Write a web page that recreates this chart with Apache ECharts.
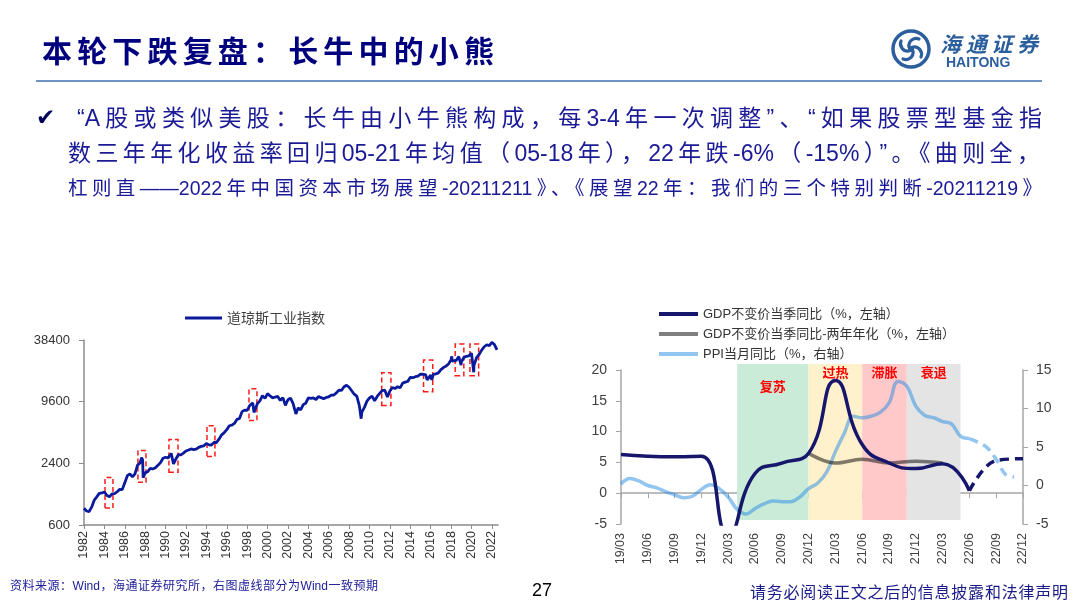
<!DOCTYPE html>
<html><head><meta charset="utf-8">
<script src="https://cdn.jsdelivr.net/npm/echarts@6/dist/echarts.min.js"></script>
<style>
html,body{margin:0;padding:0;background:#fff;}
#page{position:relative;width:1080px;height:607px;overflow:hidden;background:#fff;font-family:"Liberation Sans","Noto Sans CJK SC",sans-serif;}
#chart{position:absolute;left:0;top:0;width:1080px;height:607px;}
.t{position:absolute;text-align:justify;text-align-last:justify;white-space:normal;}
</style></head>
<body>
<div id="page">
  <div id="chart"></div>
  <div class="t" style="left:42px;top:30px;width:452px;font-size:30px;line-height:38px;color:#00007f;font-family:'Noto Sans CJK SC';font-weight:bold;">本轮下跌复盘：长牛中的小熊</div>
  <div style="position:absolute;left:36px;top:80px;width:1006px;height:2px;background:#6f93c3;"></div>
  <svg style="position:absolute;left:889px;top:27px" width="44" height="44" viewBox="-22 -22 44 44">
    <circle r="18" fill="none" stroke="#2b5e9d" stroke-width="3.5"/>
    <g fill="none" stroke="#2b5e9d" stroke-width="3.2" stroke-linecap="round">
      <path d="M-2,-2 C-3,-8 3,-12 8,-10"/>
      <path d="M-2,-2 C-3,-8 3,-12 8,-10" transform="rotate(90)"/>
      <path d="M-2,-2 C-3,-8 3,-12 8,-10" transform="rotate(180)"/>
      <path d="M-2,-2 C-3,-8 3,-12 8,-10" transform="rotate(270)"/>
    </g>
    <rect x="-3" y="-3" width="6" height="6" fill="#2b5e9d"/>
  </svg>
  <div class="t" style="left:940px;top:30px;width:98px;font-size:21px;line-height:26px;color:#2b5e9d;font-family:'Noto Sans CJK SC';font-style:italic;font-weight:bold;">海通证券</div>
  <div class="t" style="left:946px;top:54px;width:76px;font-size:14px;line-height:16px;color:#2b5e9d;font-weight:bold;">HAITONG</div>

  <div style="position:absolute;left:36px;top:102px;font-size:23px;line-height:30px;color:#00005a;font-family:'DejaVu Sans';">✔</div>
  <div class="t" style="left:77px;top:103px;width:965px;font-size:23px;line-height:30px;color:#1a1a96;">“A股或类似美股：长牛由小牛熊构成，每3-4年一次调整”、“如果股票型基金指</div>
  <div class="t" style="left:68px;top:138px;width:972px;font-size:23px;line-height:30px;color:#1a1a96;">数三年年化收益率回归05-21年均值（05-18年），22年跌-6%（-15%）”。《曲则全，</div>
  <div class="t" style="left:68px;top:175px;width:974px;font-size:19.5px;line-height:26px;color:#1a1a96;">杠则直——2022年中国资本市场展望-20211211》、《展望22年：我们的三个特别判断-20211219》</div>

  <div class="t" style="left:10px;top:578px;width:368px;font-size:12px;line-height:16px;color:#20209a;">资料来源：Wind，海通证券研究所，右图虚线部分为Wind一致预期</div>
  <div style="position:absolute;left:532px;top:579px;font-size:18px;line-height:22px;color:#000;">27</div>
  <div class="t" style="left:750px;top:580px;width:318px;font-size:16px;line-height:22px;color:#1a1a8a;font-family:'Noto Sans CJK SC';">请务必阅读正文之后的信息披露和法律声明</div>
</div>
<script>
// ---- Left chart: Dow Jones Industrial Average ----
const dowYears = [
  1982.00,1982.25,1982.50,1982.62,1982.75,
  1983.00,1983.25,1983.50,1983.75,
  1984.00,1984.25,1984.50,1984.75,
  1985.00,1985.25,1985.50,1985.75,
  1986.00,1986.25,1986.50,1986.75,
  1987.00,1987.25,1987.50,1987.65,1987.75,1987.80,
  1988.00,1988.25,1988.50,1988.75,
  1989.00,1989.25,1989.50,1989.75,
  1990.00,1990.25,1990.55,1990.78,
  1991.00,1991.25,1991.50,1991.75,
  1992.00,1992.25,1992.50,1992.75,
  1993.00,1993.25,1993.50,1993.75,
  1994.00,1994.25,1994.50,1994.75,
  1995.00,1995.25,1995.50,1995.75,
  1996.00,1996.25,1996.50,1996.75,
  1997.00,1997.25,1997.50,1997.75,
  1998.00,1998.25,1998.55,1998.67,1998.75,
  1999.00,1999.25,1999.50,1999.75,
  2000.00,2000.25,2000.50,2000.75,
  2001.00,2001.25,2001.50,2001.75,
  2002.00,2002.25,2002.50,2002.78,
  2003.00,2003.25,2003.50,2003.75,
  2004.00,2004.25,2004.50,2004.75,
  2005.00,2005.25,2005.50,2005.75,
  2006.00,2006.25,2006.50,2006.75,
  2007.00,2007.25,2007.50,2007.75,
  2008.00,2008.25,2008.50,2008.75,
  2009.00,2009.18,2009.25,2009.50,2009.75,
  2010.00,2010.25,2010.50,2010.75,
  2011.00,2011.25,2011.50,2011.76,
  2012.00,2012.25,2012.50,2012.75,
  2013.00,2013.25,2013.50,2013.75,
  2014.00,2014.25,2014.50,2014.75,
  2015.00,2015.25,2015.50,2015.65,2015.75,
  2016.00,2016.11,2016.25,2016.50,2016.75,
  2017.00,2017.25,2017.50,2017.75,
  2018.00,2018.07,2018.10,2018.25,2018.50,2018.75,2018.98,
  2019.00,2019.25,2019.50,2019.75,
  2020.00,2020.12,2020.22,2020.25,2020.50,2020.75,
  2021.00,2021.25,2021.50,2021.75,
  2022.00,2022.25,2022.50
];
const dowValues = [
  875,822,812,777,896,
  1047,1130,1222,1233,
  1259,1165,1132,1207,
  1212,1267,1336,1329,
  1547,1819,1893,1768,
  1896,2305,2419,2722,2596,1739,
  1939,1989,2142,2113,
  2169,2294,2440,2693,
  2753,2707,2999,2365,
  2634,2914,2907,3017,
  3169,3236,3319,3272,
  3301,3436,3516,3555,
  3754,3636,3625,3843,
  3834,4158,4556,4789,
  5117,5587,5655,5882,
  6448,6584,7673,7945,
  7908,8800,9338,7539,7843,
  9181,9786,10971,10337,
  11497,10922,10448,10651,
  10788,9879,10502,8848,
  10022,10404,9243,7286,
  8342,7992,8985,9275,
  10454,10357,10435,10080,
  10783,10504,10275,10569,
  10718,11109,11150,11679,
  12463,12354,13409,13896,
  13265,12263,11350,10851,
  8776,6547,7609,8447,9712,
  10428,10857,9774,10788,
  11578,12320,12414,10655,
  12218,13212,12880,13437,
  13104,14579,14910,15130,
  16577,16458,16827,17043,
  17823,17776,17620,15666,16285,
  17425,15660,17685,17930,18308,
  19763,20663,21350,22405,
  24719,26617,23860,24103,24271,26458,21792,
  23327,25929,26600,26917,
  28538,29551,18591,21917,25813,27782,
  30606,32982,34503,33844,
  36338,34678,30775
];
const dowTicks = [600, 2400, 9600, 38400];
const yearTicks = [1982,1984,1986,1988,1990,1992,1994,1996,1998,2000,2002,2004,2006,2008,2010,2012,2014,2016,2018,2020,2022];
// highlighted correction windows: [fromYear, toYear, low, high]
const dowBoxes = [
  [1984.06,1984.84,880,1750],
  [1987.29,1988.08,1570,3210],
  [1990.33,1991.22,1960,4100],
  [1994.06,1994.84,2800,5600],
  [1998.18,1998.96,6300,12800],
  [2011.20,2012.10,8800,18400],
  [2015.30,2016.20,12000,24500],
  [2018.40,2019.25,17200,35100],
  [2019.85,2020.70,17200,35100]
];

// ---- Right chart: China GDP / PPI ----
const months = ['19/03','19/04','19/05','19/06','19/07','19/08','19/09','19/10','19/11','19/12',
  '20/01','20/02','20/03','20/04','20/05','20/06','20/07','20/08','20/09','20/10','20/11','20/12',
  '21/01','21/02','21/03','21/04','21/05','21/06','21/07','21/08','21/09','21/10','21/11','21/12',
  '22/01','22/02','22/03','22/04','22/05','22/06','22/07','22/08','22/09','22/10','22/11','22/12'];
const gdpQuarters = ['19/03','19/06','19/09','19/12','20/03','20/06','20/09','20/12','21/03','21/06','21/09','21/12','22/03','22/06'];
const gdpYoY = [6.3,6.0,5.9,6.0,-6.8,3.2,4.9,6.5,18.3,7.9,4.9,4.0,4.8,0.4];
const gdpFcstQuarters = ['22/06','22/09','22/12'];
const gdpFcst = [0.4,5.3,5.6];
const gdp2yQuarters = ['20/12','21/03','21/06','21/09','21/12','22/03'];
const gdp2y = [6.5,4.9,5.5,4.9,5.2,4.9];
const ppiMonths = months.slice(0, 40);
const ppi = [0.2,0.9,0.6,0.0,-0.3,-0.8,-1.2,-1.6,-1.4,-0.5,
  0.1,-0.4,-1.5,-3.1,-3.7,-3.0,-2.4,-2.0,-2.1,-2.1,-1.5,-0.4,
  0.3,1.7,4.4,6.8,9.0,8.8,9.0,9.5,10.7,13.5,12.9,10.3,
  9.1,8.8,8.3,8.0,6.4,6.1];
const ppiFcstMonths = ['22/06','22/07','22/08','22/09','22/10','22/11'];
const ppiFcst = [6.1,5.6,4.9,3.4,1.5,1.1];
const bandNames = ['复苏','过热','滞胀','衰退'];
const bandStart = ['20/04','20/12','21/06','21/11'];
const bandEnd = ['20/12','21/06','21/11','22/05'];
const bandColors = ['#c9ebd8','#fff1cc','#ffc9c9','#e4e4e4'];

const pairs = (xs, ys) => xs.map((x, i) => [x, ys[i]]);
const plain = v => String(v);
const grey = '#8c8c8c';
const grey2 = '#a6a6a6';
const nameGdp = 'GDP不变价当季同比（%，左轴）';
const nameGdp2 = 'GDP不变价当季同比-两年年化（%，左轴）';
const namePpi = 'PPI当月同比（%，右轴）';
const navy = '#16166c';
const ppiColor = 'rgba(40,140,228,0.5)';
const gdp2Color = 'rgba(0,0,0,0.5)';

const chart = echarts.init(document.getElementById('chart'));
chart.setOption({
  animation: false,
  textStyle: {fontFamily: 'Liberation Sans, Noto Sans CJK SC, sans-serif'},
  grid: [
    {left: 84, top: 340, width: 414, height: 185},
    {left: 621, top: 370, width: 402, height: 154},
    {left: 621, top: 364, width: 402, height: 156}
  ],
  legend: [
    {data: ['道琼斯工业指数'], left: 185, top: 311, padding: 0, icon: 'rect', itemWidth: 37, itemHeight: 3,
     selectedMode: false, textStyle: {fontSize: 14, color: '#404040', fontFamily: 'Noto Sans CJK SC'}},
    {data: [nameGdp, nameGdp2, namePpi], orient: 'vertical', left: 659, top: 307, padding: 0, icon: 'rect',
     itemWidth: 39, itemHeight: 4, itemGap: 6, selectedMode: false,
     textStyle: {fontSize: 13, lineHeight: 14, color: '#333', fontFamily: 'Liberation Sans, Noto Sans CJK SC'}}
  ],
  xAxis: [
    {gridIndex: 0, type: 'value', min: 1982, max: 2022.6,
     axisLine: {show: true, onZero: false, lineStyle: {color: grey, width: 1.5}},
     axisTick: {show: true, customValues: yearTicks, length: 4, lineStyle: {color: grey}},
     axisLabel: {customValues: yearTicks, formatter: plain, rotate: 90, margin: 6, fontSize: 12.5, color: '#333'},
     splitLine: {show: false}},
    {gridIndex: 1, type: 'category', data: months, boundaryGap: false, position: 'bottom',
     axisLine: {show: false, onZero: false}, axisTick: {show: false},
     axisLabel: {interval: 2, rotate: 90, margin: 9, fontSize: 12.5, color: '#404040'}},
    {gridIndex: 1, type: 'category', data: months, boundaryGap: false, position: 'bottom',
     axisLine: {show: true, onZero: true, lineStyle: {color: grey2, width: 1.5}},
     axisTick: {show: true, interval: 2, length: 5, lineStyle: {color: grey2}},
     axisLabel: {show: false}},
    {gridIndex: 2, type: 'category', data: months, boundaryGap: false, show: false}
  ],
  yAxis: [
    {gridIndex: 0, type: 'log', logBase: 4, min: 600, max: 38400,
     axisLine: {show: true, onZero: false, lineStyle: {color: grey, width: 1.5}},
     axisTick: {show: true, customValues: dowTicks, length: 5, lineStyle: {color: grey}},
     axisLabel: {customValues: dowTicks, formatter: plain, margin: 14, fontSize: 13, color: '#333'},
     splitLine: {show: false}},
    {gridIndex: 1, type: 'value', min: -5, max: 20, interval: 5,
     axisLine: {show: true, onZero: false, lineStyle: {color: grey2, width: 1.5}},
     axisTick: {show: true, length: 5, lineStyle: {color: grey2}},
     axisLabel: {margin: 14, fontSize: 14, color: '#404040'}, splitLine: {show: false}},
    {gridIndex: 1, type: 'value', position: 'right', min: -5, max: 15, interval: 5,
     axisLine: {show: true, onZero: false, lineStyle: {color: grey2, width: 1.5}},
     axisTick: {show: true, length: 5, lineStyle: {color: grey2}},
     axisLabel: {margin: 13, fontSize: 14, color: '#404040'}, splitLine: {show: false}},
    {gridIndex: 2, type: 'value', min: 0, max: 1, show: false}
  ],
  series: [
    {name: '道琼斯工业指数', type: 'line', xAxisIndex: 0, yAxisIndex: 0,
     data: pairs(dowYears, dowValues), showSymbol: false, symbol: 'none', color: '#0a1a9c',
     lineStyle: {width: 2.8, color: '#0a1a9c'},
     markArea: {silent: true, label: {show: false},
       itemStyle: {color: 'rgba(0,0,0,0)', borderColor: '#ff1a1a', borderWidth: 1.5, borderType: [5, 3]},
       data: dowBoxes.map(b => [{xAxis: b[0], yAxis: b[2]}, {xAxis: b[1], yAxis: b[3]}])}},
    {name: 'bands', type: 'line', xAxisIndex: 3, yAxisIndex: 3, data: [], silent: true,
     markArea: {silent: true,
       label: {show: true, position: 'insideTop', distance: 2, color: '#ff0000', fontWeight: 'bold',
               fontSize: 13, fontFamily: 'Noto Sans CJK SC'},
       data: bandNames.map((n, i) => [
         {name: n, xAxis: bandStart[i], yAxis: 1, itemStyle: {color: bandColors[i]},
          label: {distance: i === 0 ? 16 : 2}},
         {xAxis: bandEnd[i], yAxis: 0}])}},
    {name: namePpi, type: 'line', xAxisIndex: 1, yAxisIndex: 2, data: pairs(ppiMonths, ppi),
     smooth: 0.4, showSymbol: false, symbol: 'none', color: ppiColor, lineStyle: {width: 3.5, color: ppiColor}},
    {name: 'PPI预测', type: 'line', xAxisIndex: 1, yAxisIndex: 2, data: pairs(ppiFcstMonths, ppiFcst),
     smooth: 0.4, showSymbol: false, symbol: 'none', color: ppiColor,
     lineStyle: {width: 3.5, color: ppiColor, type: [9, 6]}},
    {name: nameGdp2, type: 'line', xAxisIndex: 1, yAxisIndex: 1, data: pairs(gdp2yQuarters, gdp2y),
     smooth: 0.4, showSymbol: false, symbol: 'none', color: gdp2Color, lineStyle: {width: 3.5, color: gdp2Color}},
    {name: nameGdp, type: 'line', xAxisIndex: 1, yAxisIndex: 1, data: pairs(gdpQuarters, gdpYoY),
     smooth: 0.5, showSymbol: false, symbol: 'none', color: navy, lineStyle: {width: 3.5, color: navy}},
    {name: 'GDP预测', type: 'line', xAxisIndex: 1, yAxisIndex: 1, data: pairs(gdpFcstQuarters, gdpFcst),
     smooth: 0.4, showSymbol: false, symbol: 'none', color: navy,
     lineStyle: {width: 3.5, color: navy, type: [9, 6]}}
  ]
});
</script>
</body></html>
